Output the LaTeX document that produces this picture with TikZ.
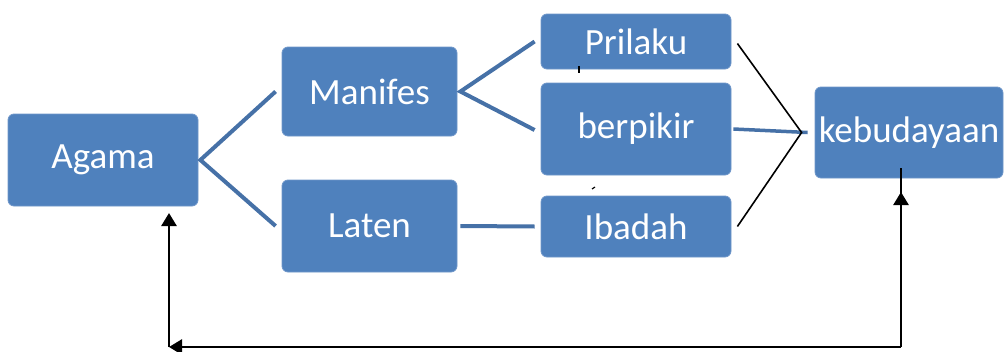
\documentclass[tikz,border=0pt]{standalone}
\usepackage{fontspec}
\setmainfont{Carlito}
\usetikzlibrary{arrows.meta}
\definecolor{boxblue}{HTML}{4F81BD}
\definecolor{boxedge}{HTML}{6F97C9}
\definecolor{linkblue}{HTML}{4671A7}
\begin{document}
\begin{tikzpicture}[x=1pt,y=-1pt,
  box/.style={draw=boxedge,line width=0.8pt,fill=boxblue,rounded corners=6pt,
    text=white,font=\fontsize{37}{42}\selectfont,inner sep=0pt},
  link/.style={draw=linkblue,line width=4pt},
  thin/.style={draw=black,line width=1.6pt},
  fb/.style={draw=black,line width=2.6pt},
  tip/.style={-{Triangle[width=15pt,length=13pt]}}]
\useasboundingbox (0,0) rectangle (1004,351);
% boxes
\node[box,minimum width=190pt,minimum height=92pt] (agama) at (103,160) {Agama};
\node[box,minimum width=175pt,minimum height=89pt] (manifes) at (369.5,91.5) {Manifes};
\node[box,minimum width=175pt,minimum height=92pt] (laten) at (369.5,226) {Laten};
\node[box,minimum width=190pt,minimum height=55pt] (prilaku) at (636,41.5) {Prilaku};
\node[box,minimum width=190pt,minimum height=92pt] (berpikir) at (636,129) {berpikir};
\node[box,minimum width=190pt,minimum height=61pt] (ibadah) at (636,226.5) {Ibadah};
\node[box,minimum width=188pt,minimum height=91pt] (kebudayaan) at (909,132.5) {kebudayaan};
% branching links
\draw[link] ([xshift=-6pt]manifes.west) -- ([xshift=2pt]agama.east) -- ([xshift=-6pt]laten.west);
\draw[link] ([xshift=-6pt]prilaku.west) -- ([xshift=3pt]manifes.east) -- ([xshift=-6pt,yshift=-1pt]berpikir.west);
\draw[link] ([xshift=3pt]laten.east) -- ([xshift=-6pt]ibadah.west);
\draw[link,line width=3.5pt] ([xshift=2pt]berpikir.east) -- ([xshift=-7pt]kebudayaan.west);
% converging lines into kebudayaan
\coordinate (meet) at ([xshift=-13pt]kebudayaan.west);
\draw[thin] ([xshift=6pt,yshift=-2pt]prilaku.east) -- (meet) -- ([xshift=6pt]ibadah.east);
% small marks
\draw[black,line width=1.2pt] (579,66) -- (579,73);
\draw[black,line width=1.2pt] (592,189) -- (595,187);
% feedback loop
\coordinate (rb) at (901,347);
\coordinate (lb) at (169,347);
\coordinate (kin) at (901,168);
\coordinate (ktip) at (901,192);
\coordinate (atip) at (169,213);
\draw[fb] (rb) -- (kin);
\draw[fb,tip] (rb) -- (ktip);
\draw[fb,tip] (rb) -- (lb);
\draw[fb,tip] (lb) -- (atip);
\end{tikzpicture}
\end{document}
